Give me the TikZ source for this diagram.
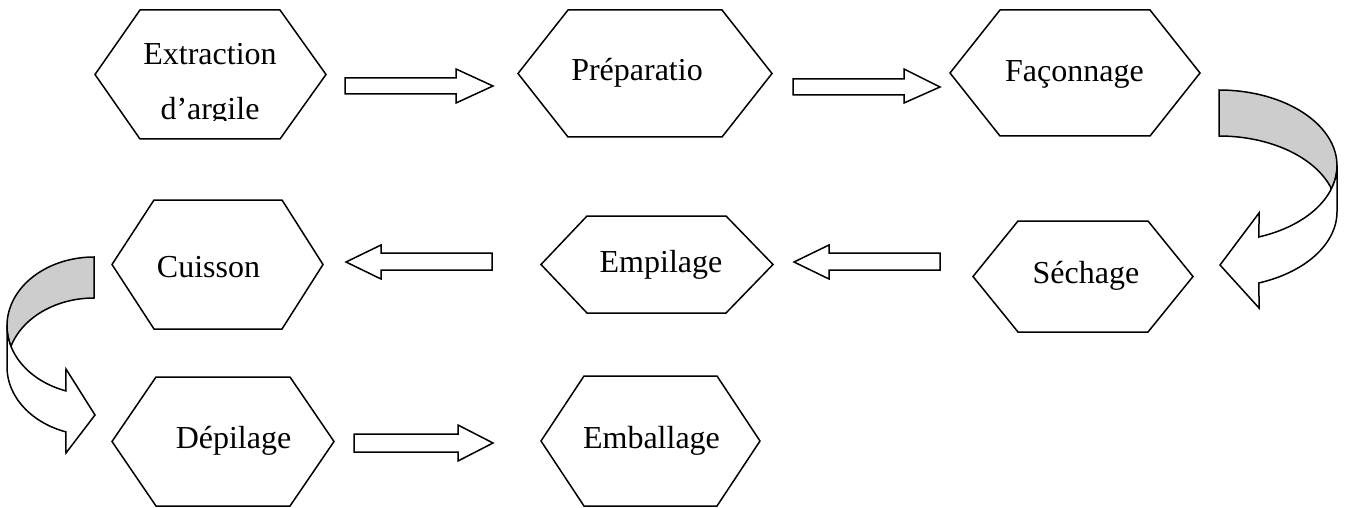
\documentclass[tikz,border=0pt]{standalone}
\usepackage{fontspec}
\setmainfont{Liberation Serif}
\definecolor{bandgrey}{RGB}{205,205,205}
\tikzset{
  shapeline/.style={draw=black,line width=1.5pt,line join=miter,fill=white},
  greyband/.style={shapeline,fill=bandgrey},
  lbl/.style={anchor=base,inner sep=0pt,font=\fontsize{32}{38}\selectfont}
}
% hexagon: L, TL, TR, R, top, mid, bottom
\newcommand\hexa[7]{\path[shapeline] (#1,#6) -- (#2,#5) -- (#3,#5) -- (#4,#6) -- (#3,#7) -- (#2,#7) -- cycle;}
% block arrow: tail x, head-base x, tip x, shaft y1, shaft y2, head y1, head y2, tip y
\newcommand\blockarr[8]{\path[shapeline] (#1,#4) -- (#2,#4) -- (#2,#6) -- (#3,#8) -- (#2,#7) -- (#2,#5) -- (#1,#5) -- cycle;}
\begin{document}
\begin{tikzpicture}[x=1pt,y=-1pt]
\useasboundingbox (0,0) rectangle (1347,508);

% hexagons
\hexa{95}{140}{280}{326}{10}{74.5}{139}
\hexa{518}{568}{722}{772}{10}{73.5}{137}
\hexa{950}{1000}{1150}{1200}{10}{73}{136}
\hexa{112}{154}{282}{323}{200}{264.5}{329}
\hexa{541}{587}{726}{773}{216}{264.5}{313}
\hexa{973}{1018}{1148}{1193}{221}{276.5}{332}
\hexa{112}{156}{290}{334}{377}{441.5}{506}
\hexa{541}{584}{717}{760}{376}{441}{506}

% straight block arrows
\blockarr{345}{456}{493}{78}{94}{69}{103}{86}
\blockarr{793}{904}{940}{79}{95}{69}{103}{87}
\blockarr{492}{381}{346}{253}{270}{245}{279}{262}
\blockarr{940}{829}{794}{253}{270}{245}{279}{262}
\blockarr{354}{458}{493}{434}{452}{425}{461}{443}

% curved arrow on the right (Faconnage -> Sechage)
\path[greyband]
  plot[domain=-90:0,samples=40] ({1219+118*cos(\x)},{165.7+75.7*sin(\x)})
  -- plot[domain=0:18.4,samples=10] ({1219+118*cos(\x)},{165.7+75.7*sin(\x)})
  -- plot[domain=-18.4:-90,samples=40] ({1219+118*cos(\x)},{211.7+75.7*sin(\x)})
  -- cycle;
\path[shapeline]
  plot[domain=0:70.2,samples=40] ({1219+118*cos(\x)},{165.7+75.7*sin(\x)})
  -- (1259,213) -- (1220,265) -- (1259,308)
  -- plot[domain=70.2:0,samples=40] ({1219+118*cos(\x)},{211.7+75.7*sin(\x)})
  -- cycle;

% curved arrow on the left (Cuisson -> Depilage)
\path[greyband]
  plot[domain=-90:0,samples=40] ({94-87*cos(\x)},{325.8+68.8*sin(\x)})
  -- plot[domain=0:17.3,samples=10] ({94-87*cos(\x)},{325.8+68.8*sin(\x)})
  -- plot[domain=-17.3:-90,samples=40] ({94-87*cos(\x)},{366.8+68.8*sin(\x)})
  -- cycle;
\path[shapeline]
  plot[domain=0:71.2,samples=40] ({94-87*cos(\x)},{325.8+68.8*sin(\x)})
  -- (66,369) -- (95,415) -- (66,453)
  -- plot[domain=71.2:0,samples=40] ({94-87*cos(\x)},{366.8+68.8*sin(\x)})
  -- cycle;

% labels
\node[lbl] (t1a) at (210,65) {Extraction};
\begin{scope}
  \clip (95,0) rectangle (326,121);
  \node[lbl] (t1b) at (210,119.5) {d’argile};
\end{scope}
\node[lbl] (t2) at (637,80.5) {Préparatio};
\node[lbl] (t3) at (1074.5,82) {Façonnage};
\node[lbl] (t4) at (208.5,277) {Cuisson};
\node[lbl] (t5) at (661,272) {Empilage};
\node[lbl] (t6) at (1086,283) {Séchage};
\node[lbl] (t7) at (233.5,448) {Dépilage};
\node[lbl] (t8) at (651.5,448) {Emballage};
\end{tikzpicture}
\end{document}
